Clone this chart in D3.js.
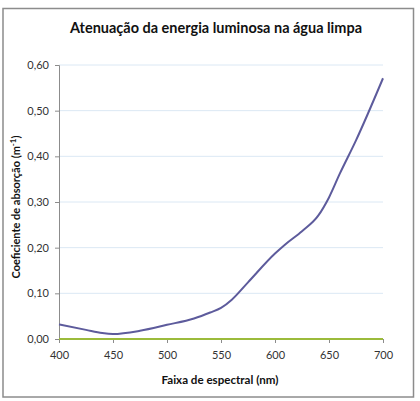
<!DOCTYPE html>
<html><head><meta charset="utf-8">
<script src="https://cdn.jsdelivr.net/npm/d3@7"></script>
<style>body{margin:0;background:#fff}svg{display:block}text{font-family:Lato,"Open Sans",sans-serif}</style>
</head><body><svg id="c" width="420" height="401"></svg>
<script>
const wavelengths = [400,425,440,450,475,500,525,540,550,560,575,600,610,625,640,650,660,675,700];
const absorption  = [0.032,0.020,0.013,0.011,0.018,0.031,0.045,0.058,0.068,0.086,0.124,0.187,0.208,0.236,0.270,0.310,0.362,0.435,0.571];
const baseline    = [0,0];
const baselineX   = [400,700];
const xTicks = [400,450,500,550,600,650,700];
const yTicks = [0,0.1,0.2,0.3,0.4,0.5,0.6];
const title = "Atenuação da energia luminosa na água limpa";
const xTitle = "Faixa de espectral (nm)";

const svg = d3.select("#c");
svg.append("rect").attr("x",3).attr("y",8.5).attr("width",410.5).attr("height",388.5)
  .attr("fill","#fff").attr("stroke","#8c8c8c").attr("stroke-width",1.5);

const x = d3.scaleLinear().domain([400,700]).range([59,383]);
const y = d3.scaleLinear().domain([0,0.6]).range([339,65]);
const fmt = d => d3.format(".2f")(d).replace(".",",");

svg.append("g").selectAll("line").data(yTicks.filter(d=>d>0)).join("line")
  .attr("x1",x(400)).attr("x2",x(700)).attr("y1",d=>y(d)).attr("y2",d=>y(d))
  .attr("stroke","#dbe8f4").attr("stroke-width",1);

const ya = svg.append("g").attr("transform",`translate(${x(400)},0)`)
  .call(d3.axisLeft(y).tickValues(yTicks).tickFormat(fmt).tickSize(4).tickPadding(6));
ya.select(".domain").attr("stroke","#8c8c8c");
ya.selectAll(".tick line").attr("stroke","#8c8c8c");
ya.selectAll("text").attr("font-size",11).attr("fill","#333");

const xa = svg.append("g").attr("transform",`translate(0,${y(0)})`)
  .call(d3.axisBottom(x).tickValues(xTicks).tickSize(4).tickPadding(8));
xa.select(".domain").attr("stroke","#8c8c8c");
xa.selectAll(".tick line").attr("stroke","#8c8c8c");
xa.selectAll("text").attr("font-size",11).attr("fill","#333");

svg.append("path").datum(baselineX.map((d,i)=>[d,baseline[i]]))
  .attr("d",d3.line().x(d=>x(d[0])).y(d=>y(d[1])))
  .attr("fill","none").attr("stroke","#9bbb3b").attr("stroke-width",2);

svg.append("path").datum(wavelengths.map((d,i)=>[d,absorption[i]]))
  .attr("d",d3.line().x(d=>x(d[0])).y(d=>y(d[1])).curve(d3.curveMonotoneX))
  .attr("fill","none").attr("stroke","#5d5b9c").attr("stroke-width",2);

svg.append("text").attr("x",216).attr("y",33).attr("text-anchor","middle")
  .attr("font-size",14.5).attr("font-weight","bold").attr("fill","#111")
  .attr("textLength",292).attr("lengthAdjust","spacingAndGlyphs").text(title);
svg.append("text").attr("x",220).attr("y",384).attr("text-anchor","middle")
  .attr("font-size",11).attr("font-weight","bold").attr("fill","#111")
  .attr("textLength",117).attr("lengthAdjust","spacingAndGlyphs").text(xTitle);
const yt = svg.append("text").attr("transform","translate(20,207) rotate(-90)").attr("text-anchor","middle")
  .attr("font-size",11).attr("font-weight","bold").attr("fill","#111");
yt.append("tspan").text("Coeficiente de absorção (m");
yt.append("tspan").attr("dy",-4).attr("font-size",8).text("-1");
yt.append("tspan").attr("dy",4).text(")");
</script></body></html>
